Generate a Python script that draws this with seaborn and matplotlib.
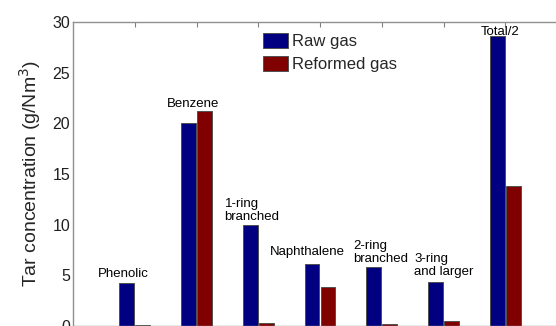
import pandas as pd
import numpy as np
import seaborn as sns
import matplotlib.pyplot as plt

# tar species and concentrations (g/Nm3)
species = ['Phenolic', 'Benzene', '1-ring\nbranched', 'Naphthalene',
           '2-ring\nbranched', '3-ring\nand larger', 'Total/2']
raw_gas = [4.2, 20.0, 10.0, 6.1, 5.85, 4.3, 28.6]
reformed_gas = [0.1, 21.2, 0.3, 3.8, 0.2, 0.5, 13.85]

# where the group labels sit (x shift from group centre, y of baseline)
label_dx = [-0.18, -0.05, -0.10, -0.20, -0.02, 0.01, -0.08]
label_y = [4.85, 21.6, 10.5, 7.0, 6.35, 5.0, 28.75]

df = pd.DataFrame({
    'species': species * 2,
    'conc': raw_gas + reformed_gas,
    'gas': ['Raw gas'] * len(species) + ['Reformed gas'] * len(species),
})

sns.set_style('white')
plt.rcParams['font.family'] = ['Liberation Sans', 'DejaVu Sans']

fig = plt.figure(figsize=(5.56, 3.26), dpi=100)
ax = fig.add_axes([73 / 556, 0.0, (567 - 73) / 556, 304 / 326])

sns.barplot(data=df, x='species', y='conc', hue='gas', order=species,
            palette={'Raw gas': '#000080', 'Reformed gas': '#800000'},
            saturation=1, width=0.52, gap=0.08, edgecolor='#505050',
            linewidth=0.7, ax=ax)

for i, lab in enumerate(species):
    ax.text(i + label_dx[i], label_y[i], lab, ha='center', va='baseline',
            multialignment='left', fontsize=9.5, color='black',
            linespacing=1.1)

ax.set_xlim(-1, 7)
ax.set_ylim(0, 30)
ax.set_yticks([0, 5, 10, 15, 20, 25, 30])
ax.set_xticks(range(len(species)))
ax.set_xticklabels([])
ax.set_xlabel('')
ax.set_ylabel('Tar concentration (g/Nm$^3$)', fontsize=14, labelpad=7)
ax.tick_params(axis='both', direction='in', length=3.5, color='#808080',
               top=True, right=True, labelsize=11.5, pad=2,
               labelcolor='#202020')
for s in ax.spines.values():
    s.set_color('#909090')
    s.set_linewidth(1.0)

ax.legend(loc='upper left', bbox_to_anchor=(0.385, 0.964), frameon=False,
          fontsize=12, borderpad=0, borderaxespad=0, handlelength=1.5,
          handleheight=1.0, handletextpad=0.2, labelspacing=0.4)

fig.savefig('out.png', dpi=100)
